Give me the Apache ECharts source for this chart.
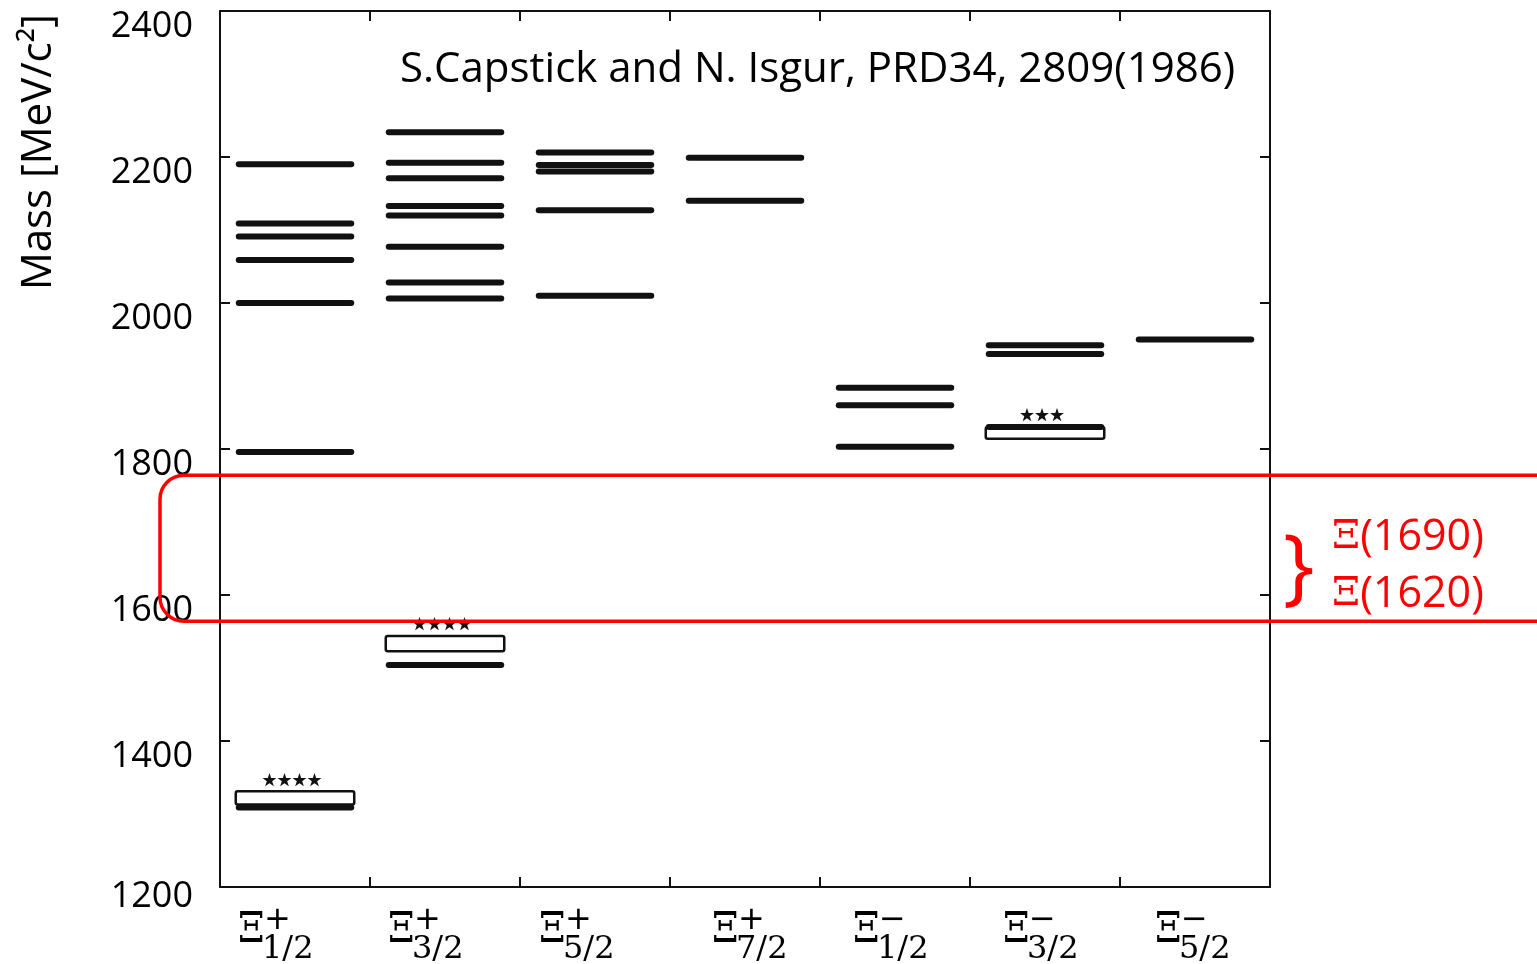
<!DOCTYPE html>
<html>
<head>
<meta charset="utf-8">
<script src="https://cdn.jsdelivr.net/npm/echarts@6/dist/echarts.min.js"></script>
<style>
  html, body { margin: 0; padding: 0; background: #fff; }
  #chart { width: 1537px; height: 964px; }
</style>
</head>
<body>
<div id="chart"></div>
<script>
// J^P columns of the cascade spectrum
const spins = ['1/2', '3/2', '5/2', '7/2', '1/2', '3/2', '5/2'];
const parities = ['+', '+', '+', '+', '\u2212', '\u2212', '\u2212'];
const categories = spins.map((s, i) => 'Xi' + s + (i < 4 ? 'p' : 'm'));

// Quark-model predicted masses (MeV/c^2), one list per column
const levelsHalfPlus = [1309, 1796, 2000, 2059, 2091, 2109, 2190];
const levelsThreeHalfPlus = [1504, 2006, 2028, 2077, 2120, 2133, 2171, 2192, 2234];
const levelsFiveHalfPlus = [2010, 2127, 2180, 2189, 2206];
const levelsSevenHalfPlus = [2140, 2199];
const levelsHalfMinus = [1803, 1860, 1884];
const levelsThreeHalfMinus = [1830, 1930, 1942];
const levelsFiveHalfMinus = [1950];
const levelsByColumn = [levelsHalfPlus, levelsThreeHalfPlus, levelsFiveHalfPlus,
  levelsSevenHalfPlus, levelsHalfMinus, levelsThreeHalfMinus, levelsFiveHalfMinus];

// Established states: column, measured mass band, star rating
const expColumns = [0, 1, 5];
const expLow = [1313, 1523, 1814];
const expHigh = [1331, 1544, 1830];
const expStars = [4, 4, 3];

// Mass axis
const massMin = 1200;
const massMax = 2400;
const massStep = 200;

// Highlighted window and the states it refers to
const windowRange = [1564, 1764];
const windowStates = ['(1690)', '(1620)'];

const titleText = 'S.Capstick and N. Isgur, PRD34, 2809(1986)';
const axisName = 'Mass [MeV/c\u00B2]';

const levelData = [];
levelsByColumn.forEach((list, col) => list.forEach(m => levelData.push([col, m])));
const expData = expColumns.map((c, i) => [c, expLow[i], expHigh[i], expStars[i]]);

const INK = '#111';
const chart = echarts.init(document.getElementById('chart'));

const frameLine = { show: true, lineStyle: { color: INK, width: 2 } };
const innerTick = { show: true, inside: true, length: 10, lineStyle: { color: INK, width: 2 } };

chart.setOption({
  animation: false,
  backgroundColor: '#fff',
  grid: { left: 220, right: 267, top: 11, bottom: 77, containLabel: false },
  xAxis: [
    {
      type: 'category', data: categories, position: 'bottom', boundaryGap: true,
      axisLine: frameLine, axisTick: innerTick, splitLine: { show: false },
      axisLabel: { show: false }
    },
    {
      type: 'category', data: categories, position: 'top', boundaryGap: true,
      axisLine: frameLine, axisTick: innerTick, axisLabel: { show: false }, splitLine: { show: false }
    }
  ],
  yAxis: [
    {
      type: 'value', min: massMin, max: massMax, interval: massStep, position: 'left',
      axisLine: frameLine, axisTick: innerTick, splitLine: { show: false },
      axisLabel: {
        margin: 27, color: '#000', fontFamily: 'Open Sans', fontSize: 36,
        formatter: v => (v === massMin ? `{lo|${v}}` : `{n|${v}}`),
        rich: {
          n: { fontFamily: 'Open Sans', fontSize: 36, color: '#000', padding: [32, 0, 0, 0] },
          lo: { fontFamily: 'Open Sans', fontSize: 36, color: '#000', padding: [20, 0, 0, 0] }
        }
      }
    },
    {
      type: 'value', min: massMin, max: massMax, interval: massStep, position: 'right',
      axisLine: frameLine, axisTick: innerTick, axisLabel: { show: false }, splitLine: { show: false }
    }
  ],
  series: [
    {
      name: 'measured',
      type: 'custom',
      coordinateSystem: 'cartesian2d',
      encode: { x: 0, y: [1, 2] },
      data: expData,
      z: 2,
      renderItem: (params, api) => {
        const col = api.value(0);
        const top = api.coord([col, api.value(2)]);
        const bot = api.coord([col, api.value(1)]);
        const w = api.size([1, 0])[0] * 0.79;
        const n = api.value(3);
        return {
          type: 'group',
          children: [
            {
              type: 'rect',
              shape: { x: top[0] - w / 2, y: top[1], width: w, height: bot[1] - top[1], r: 2 },
              style: { fill: 'none', stroke: INK, lineWidth: 2.5 }
            },
            {
              type: 'text',
              style: {
                text: '\u2605'.repeat(n), x: top[0] - 3, y: top[1] - 5,
                align: 'center', verticalAlign: 'bottom',
                fontFamily: 'Noto Sans CJK SC', fontSize: 15, fill: INK
              }
            }
          ]
        };
      }
    },
    {
      name: 'predicted',
      type: 'custom',
      coordinateSystem: 'cartesian2d',
      encode: { x: 0, y: 1 },
      data: levelData,
      z: 3,
      renderItem: (params, api) => {
        const p = api.coord([api.value(0), api.value(1)]);
        const w = api.size([1, 0])[0] * 0.79;
        const h = 6;
        return {
          type: 'rect',
          shape: { x: p[0] - w / 2, y: p[1] - h / 2, width: w, height: h, r: 3 },
          style: { fill: INK }
        };
      }
    }
  ]
});

// Column labels Ξ^P_J under the frame: symbol with stacked parity and spin
const labelShift = [-57, -57, -56, -33, -42, -42, -40];
const axisBottom = chart.convertToPixel({ yAxisIndex: 0 }, massMin);
const columnLabels = [];
categories.forEach((c, i) => {
  const x0 = chart.convertToPixel({ xAxisIndex: 0 }, c) + labelShift[i];
  columnLabels.push(
    { type: 'text', x: x0, y: axisBottom + 44, scaleX: 0.9, z: 10,
      style: { text: '\u039E', fontFamily: 'DejaVu Serif', fontSize: 42, fill: '#000',
               align: 'left', verticalAlign: 'middle' } },
    { type: 'text', x: x0 + 26, y: axisBottom + 34, z: 10,
      style: { text: parities[i], fontFamily: 'DejaVu Sans', fontSize: 32, fill: '#000',
               align: 'left', verticalAlign: 'middle' } },
    { type: 'text', x: x0 + 24, y: axisBottom + 63, z: 10,
      style: { text: spins[i], fontFamily: 'DejaVu Serif', fontSize: 32, fill: '#000',
               align: 'left', verticalAlign: 'middle' } }
  );
});

// Annotations: reference line, axis name and the highlighted mass window
const yTop = chart.convertToPixel({ yAxisIndex: 0 }, windowRange[1]);
const yBot = chart.convertToPixel({ yAxisIndex: 0 }, windowRange[0]);
const RED = '#ff0000';
const redRich = {
  xi: { fontFamily: 'DejaVu Serif', fontSize: 40, fill: RED },
  t: { fontFamily: 'Open Sans', fontSize: 43, fill: RED }
};

chart.setOption({
  graphic: columnLabels.concat([
    {
      type: 'text', x: 400, y: 70, z: 10,
      style: { text: titleText, fontFamily: 'Open Sans', fontSize: 42, fill: '#000',
               align: 'left', verticalAlign: 'middle' }
    },
    {
      type: 'text', x: 39, y: 152, rotation: Math.PI / 2, z: 10,
      style: { text: axisName, fontFamily: 'Open Sans', fontSize: 42, fill: '#000',
               align: 'center', verticalAlign: 'middle' }
    },
    {
      type: 'rect', z: 20,
      shape: { x: 160, y: yTop, width: 1420, height: yBot - yTop, r: [24, 0, 0, 24] },
      style: { fill: 'none', stroke: RED, lineWidth: 3.5 }
    },
    {
      type: 'text', x: 1283, y: yTop + 96, z: 20,
      style: { text: '}', fontFamily: 'Open Sans', fontSize: 84, fill: RED,
               align: 'left', verticalAlign: 'middle' }
    },
    {
      type: 'text', x: 1332, y: yTop + 62, z: 20,
      style: { text: `{xi|\u039E}{t|${windowStates[0]}}`, rich: redRich,
               align: 'left', verticalAlign: 'middle' }
    },
    {
      type: 'text', x: 1332, y: yTop + 119, z: 20,
      style: { text: `{xi|\u039E}{t|${windowStates[1]}}`, rich: redRich,
               align: 'left', verticalAlign: 'middle' }
    }
  ])
});
</script>
</body>
</html>
